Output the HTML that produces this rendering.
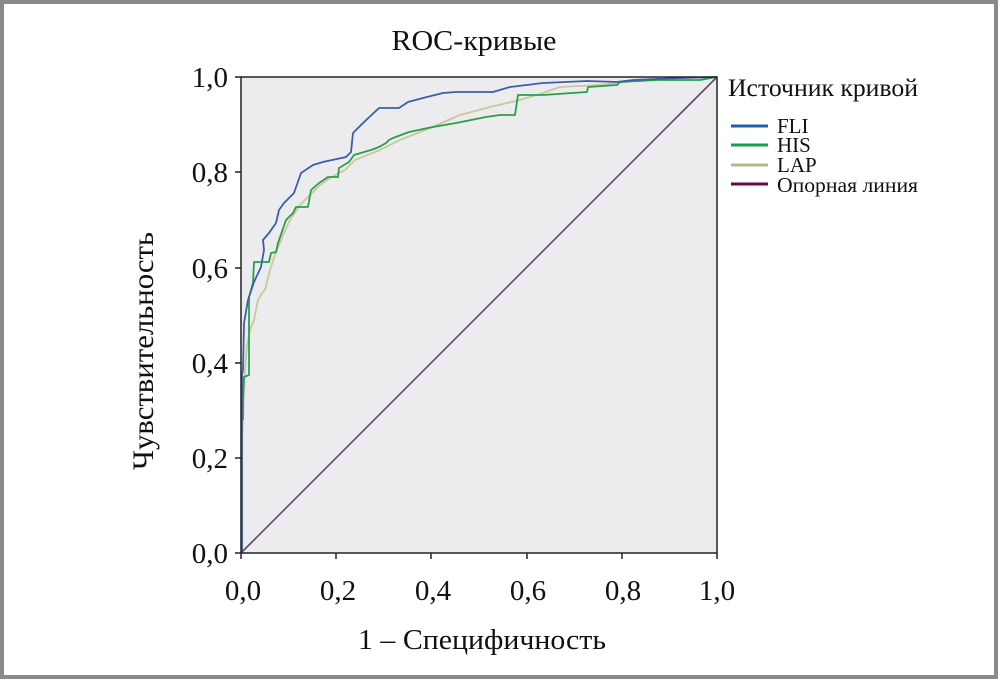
<!DOCTYPE html>
<html><head><meta charset="utf-8"><style>
html,body{margin:0;padding:0;background:#fff}
svg{display:block}
text{font-family:"Liberation Serif",serif;fill:#111}
</style></head><body>
<svg width="998" height="679" viewBox="0 0 998 679">
<rect x="0" y="0" width="998" height="679" fill="#fff"/>
<rect x="2" y="2" width="994" height="675" fill="none" stroke="#8a8a8a" stroke-width="4"/>
<text x="474" y="50" font-size="28" text-anchor="middle" textLength="165" lengthAdjust="spacingAndGlyphs">ROC-кривые</text>
<rect x="241" y="77" width="476" height="476" fill="#ececee"/>
<g fill="none" stroke-width="1.8" stroke-linejoin="round">
<polyline stroke="#c9c89a" points="242,553 242,440 243,420 245,370 247,345 250,330 254,320 258,300 262,293 265,290 270,270 275,255 279,245 283,235 290,220 300,205 310,195 320,185 330,178 345,170 355,160 380,150 400,140 430,128 460,115 490,107 520,100 540,94 560,87 600,85 640,80 680,78 717,77"/>
<polyline stroke="#28a04a" points="243,420 243,397 244,377 249,375 249,297 253,283 254,262 269,262 271,253 276,252 278,243 286,220 293,213 296,207 308,207 311,190 319,183 328,177 338,177 339,168 349,162 354,155 371,150 379,147 386,143 389,140 393,138 409,132 428,128 433,127 456,123 476,119 486,117 500,115 515,115 518,95 543,95 587,92 588,87 617,85 620,82 657,80 700,80 717,77"/>
<polyline stroke="#3a5fa8" points="242,553 242,375 243,370 244,323 248,300 254,282 261,267 264,250 263,240 269,233 276,223 279,210 284,203 294,193 301,173 313,165 323,162 346,157 351,152 353,133 363,123 379,108 399,108 408,102 423,98 443,93 456,92 493,92 510,87 543,83 587,81 617,82 633,80 680,78 717,77"/>
<line x1="241" y1="553" x2="717" y2="77" stroke="#6a3f72" stroke-width="1.6"/>
</g>
<g stroke="#222" stroke-width="1.5" fill="none">
<rect x="241" y="77" width="476" height="476"/>
<line x1="235" y1="77" x2="241" y2="77"/><line x1="235" y1="172" x2="241" y2="172"/><line x1="235" y1="268" x2="241" y2="268"/><line x1="235" y1="363" x2="241" y2="363"/><line x1="235" y1="458" x2="241" y2="458"/><line x1="235" y1="553" x2="241" y2="553"/>
<line x1="241" y1="553" x2="241" y2="559"/><line x1="336" y1="553" x2="336" y2="559"/><line x1="431" y1="553" x2="431" y2="559"/><line x1="527" y1="553" x2="527" y2="559"/><line x1="622" y1="553" x2="622" y2="559"/><line x1="717" y1="553" x2="717" y2="559"/>
</g>
<g font-size="29" text-anchor="end">
<text x="228" y="87">1,0</text><text x="228" y="182">0,8</text><text x="228" y="278">0,6</text><text x="228" y="373">0,4</text><text x="228" y="468">0,2</text><text x="228" y="563">0,0</text>
</g>
<g font-size="29" text-anchor="middle">
<text x="243" y="600">0,0</text><text x="338" y="600">0,2</text><text x="433" y="600">0,4</text><text x="528" y="600">0,6</text><text x="623" y="600">0,8</text><text x="717" y="600">1,0</text>
</g>
<text x="482" y="649" font-size="29" text-anchor="middle" textLength="248" lengthAdjust="spacingAndGlyphs">1 – Специфичность</text>
<text transform="translate(153,351) rotate(-90)" font-size="30" text-anchor="middle" textLength="238" lengthAdjust="spacingAndGlyphs">Чувствительность</text>
<text x="728" y="96" font-size="25" textLength="190" lengthAdjust="spacingAndGlyphs">Источник кривой</text>
<g stroke-width="3">
<line x1="731" y1="126" x2="768" y2="126" stroke="#1f5fae"/>
<line x1="731" y1="145" x2="768" y2="145" stroke="#17a050"/>
<line x1="731" y1="165" x2="768" y2="165" stroke="#b4b88a"/>
<line x1="731" y1="184" x2="768" y2="184" stroke="#6a0b3a"/>
</g>
<g font-size="21">
<text x="777" y="133">FLI</text><text x="777" y="152">HIS</text><text x="777" y="172">LAP</text><text x="777" y="192" textLength="141" lengthAdjust="spacingAndGlyphs">Опорная линия</text>
</g>
</svg>
</body></html>
